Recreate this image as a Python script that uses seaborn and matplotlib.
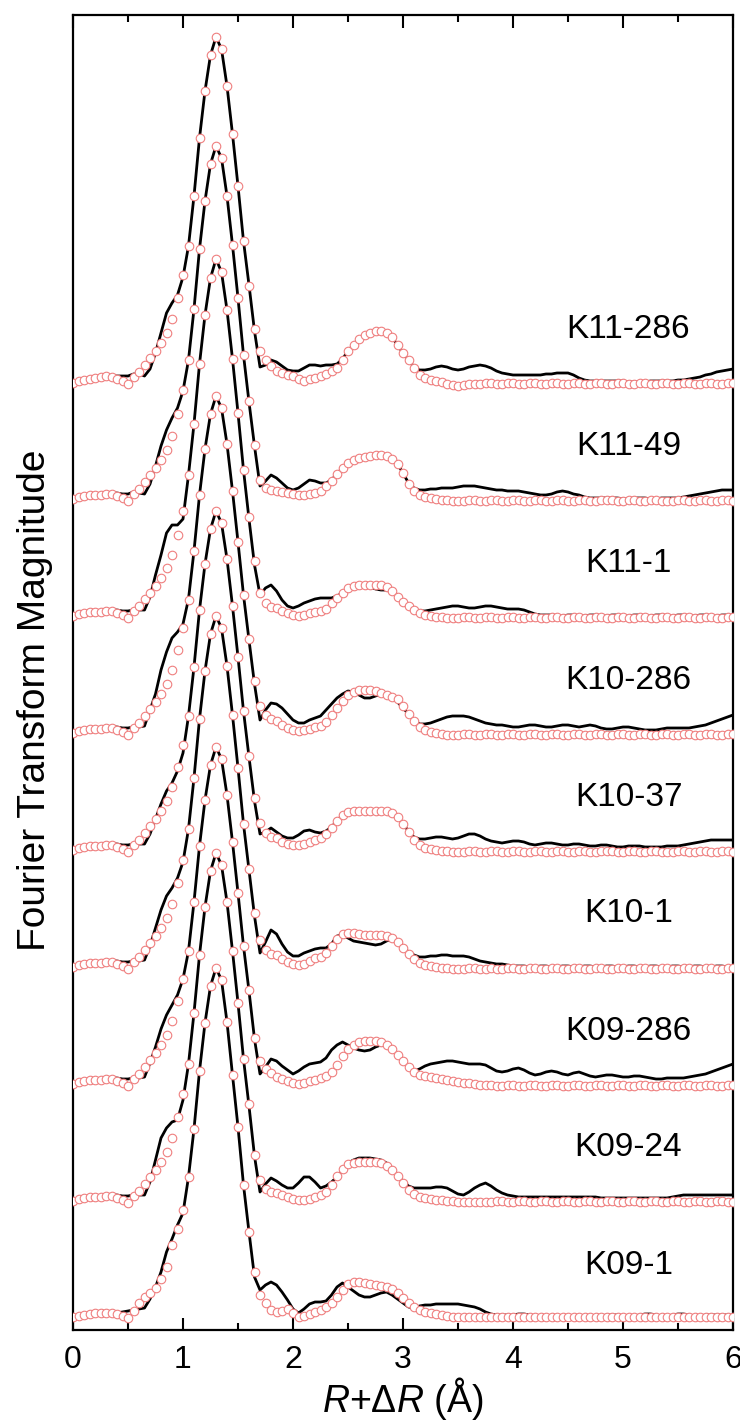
import matplotlib
matplotlib.use('Agg')
import numpy as np
import pandas as pd
import seaborn as sns
import matplotlib.pyplot as plt
from matplotlib.ticker import MultipleLocator

# R grid (Angstrom), 0.05 step
r_grid = np.linspace(0, 6, 121)

samples = ['K11-286', 'K11-49', 'K11-1', 'K10-286', 'K10-37',
           'K10-1', 'K09-286', 'K09-24', 'K09-1']

# |FT| (arb. units): data (line) and fit (circles)
data_k11_286 = [
    -2, 0, 1, 2, 3, 4, 5, 5, 5, 5,
    5, 7, 7, 5, 12, 28, 48, 68, 78, 86, 104,
    135, 185, 243, 290, 326, 344, 332, 295, 247, 195, 140,
    96, 50, 14, 16, 21, 19, 15, 11, 10, 10, 13,
    16, 16, 15, 16, 16, 17, 22, 30, 36, 42, 46,
    48, 50, 50, 48, 44, 36, 28, 21, 14, 11, 11,
    12, 14, 15, 14, 12, 11, 12, 14, 15, 16, 15,
    13, 10, 8, 7, 6, 6, 6, 6, 6, 6, 7,
    7, 8, 8, 8, 6, 3, 1, 0, 0, 0, 0,
    0, 0, 0, -1, -1, -1, -1, 0, 0, 0, 0,
    0, 1, 1, 2, 3, 4, 6, 7, 9, 10, 11,
    12]
fit_k11_286 = [
    -2, 0, 1, 2, 3, 4, 5, 4, 2, 0,
    -3, 4, 9, 16, 23, 30, 38, 48, 62, 83, 106,
    135, 185, 243, 290, 326, 344, 332, 295, 247, 195, 140,
    95, 52, 30, 21, 15, 10, 8, 6, 5, 2, 0,
    2, 3, 5, 7, 10, 13, 21, 30, 36, 42, 46,
    48, 50, 50, 48, 44, 36, 28, 21, 13, 6, 3,
    1, 0, -1, -3, -4, -5, -4, -3, -3, -3, -2,
    -2, -3, -3, -2, -2, -3, -3, -2, -2, -3, -3,
    -2, -2, -3, -3, -2, -2, -3, -3, -2, -2, -3,
    -3, -2, -2, -3, -3, -2, -2, -3, -3, -2, -2,
    -3, -3, -2, -2, -3, -3, -2, -2, -3, -3, -2,
    -2]

data_k11_49 = [
    -1, 1, 2, 3, 3, 3, 4, 5, 5, 4,
    4, 6, 5, 4, 14, 32, 52, 68, 80, 90, 107,
    138, 189, 249, 297, 334, 352, 340, 302, 253, 200, 143,
    96, 52, 12, 17, 23, 20, 15, 10, 8, 10, 14,
    18, 17, 15, 15, 18, 24, 30, 35, 38, 40, 41,
    42, 43, 43, 42, 39, 34, 25, 15, 10, 8, 8,
    9, 9, 10, 10, 10, 11, 12, 12, 12, 11, 10,
    9, 8, 8, 7, 7, 7, 6, 5, 4, 3, 3,
    4, 6, 7, 6, 4, 3, 1, 0, 0, 0, 0,
    0, 0, -1, -1, 0, 0, 0, -1, -1, 0, 0,
    0, 0, 1, 2, 3, 4, 5, 6, 7, 8, 8,
    8]
fit_k11_49 = [
    -1, 1, 2, 3, 3, 3, 4, 4, 2, 0,
    -3, 4, 9, 16, 23, 30, 38, 48, 62, 84, 108,
    138, 189, 249, 297, 334, 352, 340, 302, 253, 200, 143,
    97, 53, 18, 10, 8, 7, 6, 5, 4, 3, 3,
    4, 5, 7, 12, 17, 24, 30, 35, 38, 40, 41,
    42, 43, 43, 42, 39, 34, 25, 14, 7, 3, 1,
    0, -1, -2, -2, -3, -3, -3, -2, -2, -3, -3,
    -2, -2, -3, -3, -2, -2, -3, -3, -2, -2, -3,
    -3, -2, -2, -3, -3, -2, -2, -3, -3, -2, -2,
    -2, -3, -3, -2, -2, -3, -3, -2, -2, -3, -3,
    -3, -2, -2, -3, -3, -2, -2, -3, -3, -2, -2,
    -3]

data_k11_1 = [
    -1, 1, 2, 3, 3, 3, 4, 5, 5, 4,
    4, 5, 5, 5, 18, 40, 60, 82, 90, 90, 96,
    140, 191, 251, 300, 337, 356, 343, 305, 256, 202, 145,
    96, 50, 20, 27, 30, 24, 15, 9, 7, 9, 12,
    14, 16, 17, 17, 17, 19, 22, 26, 28, 29, 29,
    28, 26, 25, 25, 24, 20, 14, 9, 6, 4, 4,
    5, 6, 7, 8, 9, 9, 8, 7, 7, 8, 9,
    9, 8, 7, 6, 6, 6, 5, 3, 1, 0, 0,
    0, -1, -1, 0, 0, -1, -1, 0, 0, -1, -1,
    0, 0, -1, -1, 0, 0, -1, -1, 0, 0, -1,
    -1, 0, 0, -1, -1, 0, 0, -1, -1, 0, 0,
    0]
fit_k11_1 = [
    -1, 1, 2, 3, 3, 3, 4, 4, 2, 0,
    -3, 4, 9, 16, 22, 29, 37, 47, 60, 80, 104,
    140, 191, 251, 300, 337, 356, 343, 305, 256, 202, 145,
    98, 54, 22, 12, 8, 7, 4, 2, 0, -1, 0,
    2, 3, 4, 6, 12, 17, 22, 27, 29, 30, 30,
    30, 30, 30, 28, 24, 18, 13, 9, 5, 2, 0,
    -1, -2, -2, -3, -3, -3, -2, -2, -3, -3, -2,
    -2, -3, -3, -2, -2, -3, -3, -2, -2, -3, -3,
    -2, -2, -3, -3, -2, -2, -3, -3, -2, -2, -3,
    -3, -2, -2, -3, -3, -2, -2, -3, -3, -2, -2,
    -3, -3, -2, -2, -3, -3, -2, -2, -3, -3, -2,
    -2]

data_k10_286 = [
    -1, 1, 2, 3, 3, 3, 4, 5, 5, 4,
    4, 5, 5, 6, 22, 38, 62, 80, 94, 100, 108,
    133, 181, 237, 283, 318, 336, 324, 288, 241, 190, 137,
    92, 48, 12, 22, 29, 28, 24, 18, 12, 9, 9,
    12, 14, 16, 22, 28, 34, 38, 41, 40, 37, 34,
    34, 36, 38, 37, 34, 30, 24, 18, 12, 8, 8,
    9, 11, 13, 15, 16, 16, 16, 15, 13, 11, 9,
    8, 7, 7, 6, 5, 5, 6, 7, 7, 6, 5,
    5, 6, 7, 7, 6, 5, 6, 7, 6, 4, 3,
    3, 4, 5, 5, 4, 3, 2, 2, 2, 3, 4,
    4, 4, 4, 4, 5, 6, 7, 9, 11, 13, 15,
    17]
fit_k10_286 = [
    -1, 1, 2, 3, 3, 3, 4, 4, 2, 0,
    -3, 4, 9, 16, 23, 30, 38, 48, 62, 82, 104,
    132, 181, 237, 283, 318, 336, 324, 288, 241, 190, 137,
    93, 51, 26, 17, 13, 11, 7, 4, 2, 1, 2,
    3, 5, 6, 10, 17, 24, 31, 37, 40, 42, 42,
    42, 41, 39, 37, 35, 33, 26, 18, 11, 5, 2,
    0, -1, -2, -3, -3, -3, -2, -2, -3, -3, -2,
    -2, -3, -3, -2, -2, -3, -3, -2, -2, -3, -3,
    -2, -2, -3, -3, -2, -2, -3, -3, -2, -2, -3,
    -3, -2, -2, -3, -3, -2, -2, -3, -3, -2, -2,
    -3, -3, -2, -2, -3, -3, -2, -2, -3, -3, -2,
    -2]

data_k10_37 = [
    -1, 1, 2, 3, 3, 3, 4, 5, 5, 4,
    4, 5, 5, 5, 15, 30, 45, 58, 66, 78, 96,
    133, 182, 239, 285, 320, 338, 326, 290, 243, 192, 138,
    92, 48, 15, 17, 21, 17, 13, 11, 11, 14, 18,
    19, 17, 16, 18, 22, 28, 34, 37, 38, 38, 38,
    38, 38, 38, 38, 36, 32, 25, 18, 12, 10, 10,
    11, 12, 12, 11, 10, 11, 13, 15, 15, 13, 10,
    8, 7, 6, 7, 8, 8, 7, 5, 4, 5, 6,
    6, 5, 4, 4, 5, 5, 4, 3, 3, 4, 4,
    3, 2, 2, 3, 3, 3, 2, 2, 2, 2, 3,
    3, 3, 4, 5, 6, 7, 8, 9, 9, 9, 9,
    9]
fit_k10_37 = [
    -1, 1, 2, 3, 3, 3, 4, 4, 2, 0,
    -3, 4, 9, 16, 23, 30, 38, 48, 62, 82, 104,
    133, 182, 239, 285, 320, 338, 326, 290, 243, 192, 138,
    93, 51, 26, 16, 12, 11, 7, 5, 4, 4, 5,
    7, 9, 11, 15, 21, 28, 34, 37, 38, 38, 38,
    38, 38, 38, 38, 36, 32, 25, 17, 9, 4, 1,
    0, -1, -2, -2, -3, -3, -3, -2, -2, -3, -3,
    -2, -2, -3, -3, -2, -2, -3, -3, -2, -2, -3,
    -3, -2, -2, -3, -3, -2, -2, -3, -3, -2, -2,
    -2, -3, -3, -2, -2, -3, -3, -2, -2, -3, -3,
    -3, -2, -2, -3, -3, -2, -2, -3, -3, -2, -2,
    -3]

data_k10_1 = [
    -1, 1, 2, 3, 3, 3, 4, 5, 5, 4,
    4, 5, 5, 6, 20, 38, 56, 70, 78, 88, 104,
    137, 188, 247, 295, 332, 350, 338, 300, 251, 198, 142,
    96, 50, 13, 24, 36, 32, 22, 14, 10, 10, 13,
    15, 17, 18, 18, 22, 30, 31, 28, 25, 24, 23,
    22, 21, 22, 25, 27, 24, 19, 14, 11, 9, 9,
    10, 10, 11, 11, 10, 10, 10, 9, 7, 5, 4,
    3, 2, 2, 1, 0, 0, 0, -1, -1, 0, 0,
    -1, -1, 0, 0, -1, -1, 0, 0, -1, -1, 0,
    0, -1, -1, 0, 0, -1, -1, 0, 0, -1, -1,
    0, 0, -1, -1, 0, 0, -1, -1, 0, 0, -1,
    -1]
fit_k10_1 = [
    -1, 1, 2, 3, 3, 3, 4, 4, 2, 0,
    -3, 4, 9, 16, 23, 30, 38, 48, 62, 83, 106,
    137, 188, 247, 295, 332, 350, 338, 300, 251, 198, 142,
    97, 53, 26, 16, 12, 11, 7, 4, 2, 1, 2,
    5, 8, 9, 13, 20, 27, 32, 33, 33, 32, 31,
    31, 31, 31, 30, 28, 24, 18, 12, 7, 3, 1,
    0, -1, -2, -2, -3, -3, -3, -2, -2, -3, -3,
    -2, -3, -3, -2, -2, -3, -3, -2, -2, -3, -3,
    -2, -2, -3, -3, -2, -2, -3, -3, -2, -2, -3,
    -3, -2, -2, -3, -3, -2, -2, -3, -3, -2, -2,
    -3, -3, -2, -2, -3, -3, -2, -2, -3, -3, -2,
    -2]

data_k09_286 = [
    -1, 1, 2, 3, 3, 3, 4, 5, 5, 4,
    4, 5, 5, 6, 20, 36, 54, 68, 78, 88, 104,
    132, 181, 237, 283, 318, 336, 324, 288, 241, 190, 137,
    92, 44, 9, 16, 24, 22, 17, 13, 9, 12, 16,
    19, 20, 21, 25, 33, 38, 41, 38, 35, 33, 32,
    33, 36, 38, 37, 34, 28, 22, 16, 12, 14, 17,
    19, 20, 21, 22, 22, 21, 20, 19, 19, 19, 18,
    15, 12, 11, 12, 14, 15, 13, 10, 8, 9, 11,
    12, 11, 9, 8, 10, 11, 9, 7, 6, 7, 8,
    8, 7, 6, 6, 7, 7, 6, 5, 4, 4, 5,
    5, 5, 5, 6, 7, 8, 9, 11, 13, 15, 17,
    19]
fit_k09_286 = [
    -1, 1, 2, 3, 3, 3, 4, 4, 2, 0,
    -3, 4, 9, 16, 23, 30, 38, 48, 62, 82, 104,
    132, 181, 237, 283, 318, 336, 324, 288, 241, 190, 137,
    93, 45, 22, 14, 10, 6, 4, 2, 0, -1, 0,
    2, 3, 5, 7, 11, 18, 27, 34, 38, 41, 42,
    42, 42, 41, 38, 34, 28, 22, 16, 11, 8, 7,
    6, 5, 4, 3, 2, 1, 0, 0, -1, -2, -2,
    -2, -3, -3, -2, -2, -3, -3, -2, -2, -3, -3,
    -2, -2, -3, -3, -2, -2, -3, -3, -2, -2, -3,
    -3, -2, -2, -3, -3, -2, -2, -3, -3, -2, -2,
    -3, -3, -2, -2, -3, -3, -2, -2, -3, -3, -2,
    -2]

data_k09_24 = [
    -1, 1, 2, 3, 3, 3, 4, 5, 5, 4,
    4, 5, 5, 5, 18, 40, 62, 72, 78, 80, 100,
    136, 187, 245, 293, 329, 347, 335, 298, 249, 197, 141,
    94, 44, 8, 16, 22, 19, 15, 12, 12, 17, 23,
    23, 18, 12, 14, 18, 23, 30, 37, 40, 42, 42,
    42, 41, 40, 37, 32, 25, 19, 14, 12, 12, 12,
    12, 13, 13, 12, 9, 6, 5, 8, 12, 15, 17,
    14, 10, 7, 5, 4, 3, 3, 3, 3, 3, 3,
    3, 3, 3, 3, 3, 3, 3, 3, 3, 2, 2,
    2, 2, 2, 2, 2, 2, 2, 2, 2, 2, 2,
    3, 4, 5, 5, 5, 5, 5, 5, 5, 5, 5,
    5]
fit_k09_24 = [
    -1, 1, 2, 3, 3, 3, 4, 4, 2, 0,
    -3, 4, 9, 16, 23, 30, 38, 48, 62, 83, 106,
    136, 187, 245, 293, 329, 347, 335, 298, 249, 197, 141,
    96, 45, 20, 11, 8, 7, 5, 3, 1, 0, 0,
    1, 3, 5, 8, 15, 24, 31, 36, 37, 38, 38,
    38, 38, 37, 34, 30, 24, 17, 10, 6, 3, 2,
    1, 0, 0, -1, -1, -2, -2, -2, -2, -2, -2,
    -2, -1, -1, -2, -2, -1, -1, -2, -2, -1, -1,
    -2, -2, -1, -1, -2, -2, -1, -1, -2, -2, -1,
    -1, -2, -2, -1, -1, -2, -2, -1, -1, -2, -2,
    -1, -1, -2, -2, -1, -1, -2, -2, -1, -1, -2,
    -2]

data_k09_1 = [
    0, 1, 2, 3, 4, 4, 4, 4, 4, 5,
    6, 7, 8, 9, 18, 30, 45, 65, 78, 92, 104,
    140, 188, 246, 294, 331, 349, 337, 295, 242, 190, 132,
    85, 40, 27, 32, 35, 32, 25, 17, 8, 4, 8,
    13, 15, 15, 16, 22, 30, 34, 30, 26, 22, 20,
    20, 22, 24, 25, 22, 18, 14, 10, 9, 11, 12,
    12, 13, 13, 13, 13, 13, 12, 11, 10, 8, 5,
    3, 2, 2, 2, 2, 3, 3, 2, 1, 1, 1,
    1, 1, 1, 1, 1, 1, 1, 1, 1, 1, 2,
    2, 2, 1, 1, 1, 2, 3, 3, 2, 1, 1,
    2, 3, 3, 2, 1, 1, 2, 2, 2, 2, 2,
    2]
fit_k09_1 = [
    0, 1, 2, 3, 4, 4, 4, 4, 3, 1,
    -1, 6, 14, 20, 24, 29, 38, 50, 72, 88, 107,
    140, 188, 246, 294, 331, 349, 337, 295, 242, 190, 132,
    85, 45, 22, 14, 7, 5, 6, 8, 4, 0, 1,
    3, 5, 7, 10, 14, 20, 27, 33, 35, 35, 34,
    33, 32, 31, 30, 28, 24, 19, 14, 10, 7, 5,
    4, 3, 2, 1, 0, 0, 0, 0, 0, 0, 0,
    0, 0, 0, 0, 0, 0, 0, 0, 0, 0, 0,
    0, 0, 0, 0, 0, 0, 0, 0, 0, 0, 0,
    0, 0, 0, 0, 0, 0, 0, 0, 0, 0, 0,
    0, 0, 0, 0, 0, 0, 0, 0, 0, 0, 0,
    0]

data_sets = [data_k11_286, data_k11_49, data_k11_1, data_k10_286, data_k10_37,
             data_k10_1, data_k09_286, data_k09_24, data_k09_1]
fit_sets = [fit_k11_286, fit_k11_49, fit_k11_1, fit_k10_286, fit_k10_37,
            fit_k10_1, fit_k09_286, fit_k09_24, fit_k09_1]

step = 117  # vertical offset between stacked spectra

rows = []
for i, name in enumerate(samples):
    off = (len(samples) - 1 - i) * step
    for kind, vals in (('data', data_sets[i]), ('fit', fit_sets[i])):
        for x, v in zip(r_grid, vals):
            rows.append((name, kind, x, v + off))
df = pd.DataFrame(rows, columns=['sample', 'kind', 'R', 'y'])

sns.set_theme(style='ticks')
plt.rcParams['font.family'] = ['Liberation Sans', 'DejaVu Sans']
plt.rcParams['mathtext.fontset'] = 'custom'
plt.rcParams['mathtext.rm'] = 'Liberation Sans'
plt.rcParams['mathtext.it'] = 'Liberation Sans:italic'
plt.rcParams['text.color'] = 'black'
plt.rcParams['axes.labelcolor'] = 'black'

fig = plt.figure(figsize=(7.4, 14.24), dpi=100)
ax = fig.add_axes([73 / 740, 1 - 1330 / 1424, 660 / 740, 1315 / 1424])

for i, name in enumerate(samples):
    sub = df[df['sample'] == name]
    sns.lineplot(data=sub[sub['kind'] == 'data'], x='R', y='y', color='black',
                 lw=2.0, sort=False, estimator=None, ax=ax, zorder=2)
    sns.scatterplot(data=sub[sub['kind'] == 'fit'], x='R', y='y', marker='o',
                    color='white', edgecolor='#ef7f7f', linewidth=0.8, s=38,
                    ax=ax, zorder=3, legend=False)
    off = (len(samples) - 1 - i) * step
    ax.text(5.05, off + 52, name, ha='center', va='center', fontsize=24,
            color='black')

ax.set_xlim(0, 6)
ax.set_ylim(-13, 1302)
ax.set_yticks([])
ax.xaxis.set_major_locator(MultipleLocator(1))
ax.xaxis.set_minor_locator(MultipleLocator(0.5))
ax.tick_params(axis='x', which='both', direction='in', top=True, bottom=True,
               width=1.5, labelsize=23, pad=11, colors='black')
ax.tick_params(axis='x', which='major', length=9)
ax.tick_params(axis='x', which='minor', length=5)
for sp in ax.spines.values():
    sp.set_linewidth(1.6)
    sp.set_color('black')
    sp.set_visible(True)

ax.set_xlabel(r'$\it{R}$+$\it{\Delta R}$ (Å)', fontsize=27, labelpad=0)
ax.set_ylabel('Fourier Transform Magnitude', fontsize=28)
ax.yaxis.set_label_coords(-0.030, 0.479)

fig.savefig('out.png', dpi=100, facecolor='white')
